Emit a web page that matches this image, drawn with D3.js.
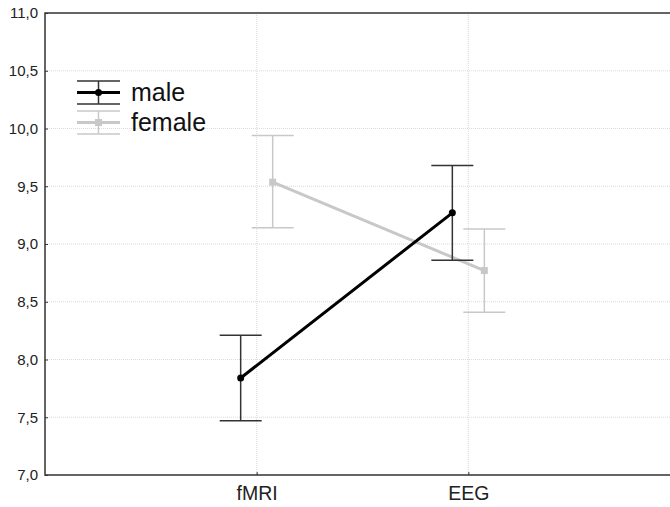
<!DOCTYPE html>
<html><head><meta charset="utf-8">
<script src="https://cdn.jsdelivr.net/npm/d3@7/dist/d3.min.js"></script>
<style>body{margin:0;background:#fff;}svg{display:block;font-family:"Liberation Sans",Arial,sans-serif;}</style>
</head><body><svg id="c" width="670" height="507"></svg>
<script>
const categories = ["fMRI", "EEG"];
const series = ["male", "female"];
const maleMean = [7.84, 9.27];
const maleLow = [7.47, 8.86];
const maleHigh = [8.21, 9.68];
const femaleMean = [9.535, 8.77];
const femaleLow = [9.14, 8.41];
const femaleHigh = [9.94, 9.13];
const yTicks = [7.0, 7.5, 8.0, 8.5, 9.0, 9.5, 10.0, 10.5, 11.0];

const svg = d3.select("#c");
const L = 45, R = 680, T = 13, B = 475;
const x = d3.scalePoint().domain(categories).range([L, R]).padding(1);
const y = d3.scaleLinear().domain([7, 11]).range([B, T]);
const fmt = v => d3.format(".1f")(v).replace(".", ",");

// grid
svg.append("g").selectAll("line").data(yTicks.slice(1, -1)).join("line")
  .attr("x1", L).attr("x2", R).attr("y1", d => y(d)).attr("y2", d => y(d))
  .attr("stroke", "#dcdcdc").attr("stroke-width", 1).attr("stroke-dasharray", "1,1");
svg.append("g").selectAll("line").data(categories).join("line")
  .attr("x1", d => x(d)).attr("x2", d => x(d)).attr("y1", T).attr("y2", B)
  .attr("stroke", "#dcdcdc").attr("stroke-width", 1).attr("stroke-dasharray", "1,1");

// axes
const ya = svg.append("g").attr("transform", `translate(${L},0)`)
  .call(d3.axisRight(y).tickValues(yTicks).tickFormat(fmt).tickSize(3));
ya.select(".domain").remove();
ya.selectAll("text").attr("x", -7).attr("text-anchor", "end").attr("font-size", 15).attr("fill", "#222")
  .attr("font-family", "Liberation Sans, Arial, sans-serif");
ya.selectAll("line").attr("stroke", "#333");
const xa = svg.append("g").attr("transform", `translate(0,${B})`)
  .call(d3.axisTop(x).tickSize(3));
xa.select(".domain").remove();
xa.selectAll("line").attr("stroke", "#333");
xa.selectAll("text").attr("y", 25).attr("font-size", 19.5).attr("fill", "#222")
  .attr("font-family", "Liberation Sans, Arial, sans-serif");

// frame
svg.append("path").attr("d", `M${R},${T}H${L}V${B}H${R}`).attr("fill", "none")
  .attr("stroke", "#333").attr("stroke-width", 1.5);

const off = 16, cap = 21;
const groups = [
  {name: "male", mean: maleMean, low: maleLow, high: maleHigh, dx: -off, line: "#000", err: "#333", marker: "circle"},
  {name: "female", mean: femaleMean, low: femaleLow, high: femaleHigh, dx: off, line: "#c8c8c8", err: "#c8c8c8", marker: "square"}
];

[groups[1], groups[0]].forEach(g => {
  const gg = svg.append("g");
  categories.forEach((c, i) => {
    const cx = x(c) + g.dx;
    gg.append("line").attr("x1", cx).attr("x2", cx).attr("y1", y(g.low[i])).attr("y2", y(g.high[i]))
      .attr("stroke", g.err).attr("stroke-width", 1.5);
    [g.low[i], g.high[i]].forEach(v => gg.append("line").attr("x1", cx - cap).attr("x2", cx + cap)
      .attr("y1", y(v)).attr("y2", y(v)).attr("stroke", g.err).attr("stroke-width", 1.5));
  });
  const line = d3.line().x((d, i) => x(categories[i]) + g.dx).y(d => y(d));
  gg.append("path").attr("d", line(g.mean)).attr("fill", "none").attr("stroke", g.line).attr("stroke-width", 3);
  categories.forEach((c, i) => {
    const cx = x(c) + g.dx, cy = y(g.mean[i]);
    if (g.marker === "circle") gg.append("circle").attr("cx", cx).attr("cy", cy).attr("r", 3.5).attr("fill", g.line);
    else gg.append("rect").attr("x", cx - 3.5).attr("y", cy - 3.5).attr("width", 7).attr("height", 7).attr("fill", g.line);
  });
});

// legend
const lg = svg.append("g");
groups.forEach((g, k) => {
  const cy = 92.5 + k * 30, x0 = 77, x1 = 120, xm = (x0 + x1) / 2;
  lg.append("line").attr("x1", xm).attr("x2", xm).attr("y1", cy - 11.5).attr("y2", cy + 11.5).attr("stroke", g.err).attr("stroke-width", 1.5);
  [cy - 11.5, cy + 11.5].forEach(v => lg.append("line").attr("x1", x0).attr("x2", x1).attr("y1", v).attr("y2", v).attr("stroke", g.err).attr("stroke-width", 1.5));
  lg.append("line").attr("x1", x0).attr("x2", x1).attr("y1", cy).attr("y2", cy).attr("stroke", g.line).attr("stroke-width", 3);
  if (g.marker === "circle") lg.append("circle").attr("cx", xm).attr("cy", cy).attr("r", 3.5).attr("fill", g.line);
  else lg.append("rect").attr("x", xm - 3.5).attr("y", cy - 3.5).attr("width", 7).attr("height", 7).attr("fill", g.line);
  lg.append("text").attr("x", 131).attr("y", cy + 8.5).attr("font-size", 25).attr("fill", "#111").text(g.name);
});
</script></body></html>
